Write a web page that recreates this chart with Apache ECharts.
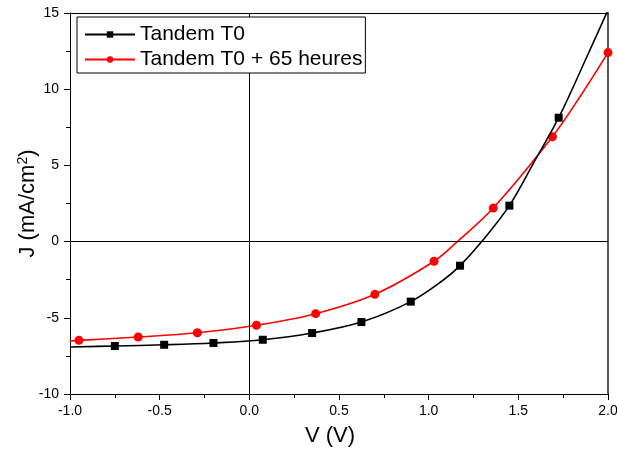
<!DOCTYPE html>
<html>
<head>
<meta charset="utf-8">
<script src="https://cdn.jsdelivr.net/npm/echarts@6/dist/echarts.min.js"></script>
<style>html,body{margin:0;padding:0;background:#fff;}#c{width:617px;height:450px;}</style>
</head>
<body>
<div id="c"></div>
<script>
// Series names
var seriesNames = ['Tandem T0', 'Tandem T0 + 65 heures'];
// Tandem T0: marker points (V, J)
var t0MarkV = [-0.75, -0.475, -0.2, 0.075, 0.35, 0.625, 0.9, 1.175, 1.45, 1.725, 2.0];
var t0MarkJ = [-6.85, -6.77, -6.65, -6.44, -6.00, -5.28, -3.94, -1.58, 2.36, 8.13, 15.2];
// Tandem T0: extra curve points without marker
var t0CurveV = [-1.0, 1.082, 1.296, 1.584, 1.891];
var t0CurveJ = [-6.92, -2.52, 0.0, 5.14, 12.36];
// Tandem T0 + 65 h: marker points
var t65MarkV = [-0.95, -0.62, -0.29, 0.04, 0.37, 0.70, 1.03, 1.36, 1.69, 2.0];
var t65MarkJ = [-6.48, -6.26, -5.98, -5.49, -4.73, -3.46, -1.29, 2.20, 6.88, 12.4];
// Tandem T0 + 65 h: extra curve points
var t65CurveV = [-1.0, 1.16, 1.85];
var t65CurveJ = [-6.52, 0.0, 9.62];
// Axis ticks
var xTicks = [-1.0, -0.5, 0.0, 0.5, 1.0, 1.5, 2.0];
var yTicks = [-10, -5, 0, 5, 10, 15];

function buildData(mv, mj, cv, cj, sym) {
  var pts = [];
  for (var i = 0; i < mv.length; i++) pts.push({value: [mv[i], mj[i]], symbol: sym});
  for (var k = 0; k < cv.length; k++) pts.push({value: [cv[k], cj[k]], symbol: 'none'});
  pts.sort(function (a, b) { return a.value[0] - b.value[0]; });
  return pts;
}

var chart = echarts.init(document.getElementById('c'), null, {renderer: 'canvas'});
var font = 'Liberation Sans, Arial, sans-serif';
chart.setOption({
  animation: false,
  backgroundColor: '#fff',
  grid: {left: 70, right: 9, top: 13, bottom: 56, outerBoundsMode: 'none', containLabel: false},
  legend: {
    left: 77, top: 17, orient: 'vertical', z: 20, zlevel: 0,
    padding: [7, 3, 3, 7], itemGap: 4, itemWidth: 50, itemHeight: 8,
    borderColor: '#000', borderWidth: 1, backgroundColor: '#fff',
    textStyle: {fontFamily: font, fontSize: 21, color: '#000'},
    data: seriesNames
  },
  xAxis: [{
    type: 'value', min: xTicks[0], max: xTicks[xTicks.length - 1], interval: 0.5,
    name: 'V (V)', nameLocation: 'middle', nameGap: 31, nameMoveOverlap: false,
    nameTextStyle: {fontFamily: font, fontSize: 22, color: '#000', padding: [0, 18, 0, 0]},
    axisLine: {show: true, onZero: false, lineStyle: {color: '#000', width: 1}},
    axisTick: {show: true, length: 6, lineStyle: {color: '#000'}},
    minorTick: {show: true, splitNumber: 2, length: 4, lineStyle: {color: '#000'}},
    axisLabel: {margin: 10, fontFamily: font, fontSize: 14, color: '#000',
      formatter: function (v) { return v.toFixed(1); }},
    splitLine: {show: false}
  }, {
    type: 'value', position: 'top', min: xTicks[0], max: xTicks[xTicks.length - 1],
    axisLine: {show: true, onZero: false, lineStyle: {color: '#000', width: 1}},
    axisTick: {show: false}, axisLabel: {show: false}, splitLine: {show: false}
  }],
  yAxis: [{
    type: 'value', min: yTicks[0], max: yTicks[yTicks.length - 1], interval: 5,
    name: '{t|J (mA/cm}{s|2}{t|)}', nameLocation: 'middle', nameGap: 30, nameMoveOverlap: false,
    nameTextStyle: {rich: {
      t: {fontFamily: font, fontSize: 22, color: '#000'},
      s: {fontFamily: font, fontSize: 14, color: '#000', verticalAlign: 'top', padding: [0, 0, 10, 0]}
    }},
    axisLine: {show: true, onZero: false, lineStyle: {color: '#000', width: 1}},
    axisTick: {show: true, length: 6, lineStyle: {color: '#000'}},
    minorTick: {show: true, splitNumber: 2, length: 4, lineStyle: {color: '#000'}},
    axisLabel: {margin: 11, fontFamily: font, fontSize: 14, color: '#000'},
    splitLine: {show: false}
  }, {
    type: 'value', position: 'right', min: yTicks[0], max: yTicks[yTicks.length - 1],
    axisLine: {show: true, onZero: false, lineStyle: {color: '#555', width: 2}},
    axisTick: {show: false}, axisLabel: {show: false}, splitLine: {show: false}
  }],
  series: [{
    name: seriesNames[0], type: 'line', smooth: 0.35, clip: true,
    data: buildData(t0MarkV, t0MarkJ, t0CurveV, t0CurveJ, 'rect'),
    symbol: 'rect', symbolSize: 8, showAllSymbol: true,
    lineStyle: {color: '#000', width: 1.6}, itemStyle: {color: '#000'},
    markLine: {
      silent: true, symbol: ['none', 'none'], label: {show: false},
      lineStyle: {color: '#000', width: 1, type: 'solid'},
      data: [{yAxis: 0}, {xAxis: 0}]
    },
    z: 3
  }, {
    name: seriesNames[1], type: 'line', smooth: 0.35, clip: true,
    data: buildData(t65MarkV, t65MarkJ, t65CurveV, t65CurveJ, 'circle'),
    symbol: 'circle', symbolSize: 9, showAllSymbol: true,
    lineStyle: {color: '#ff0000', width: 1.6}, itemStyle: {color: '#ff0000'},
    z: 2
  }]
});
</script>
</body>
</html>
